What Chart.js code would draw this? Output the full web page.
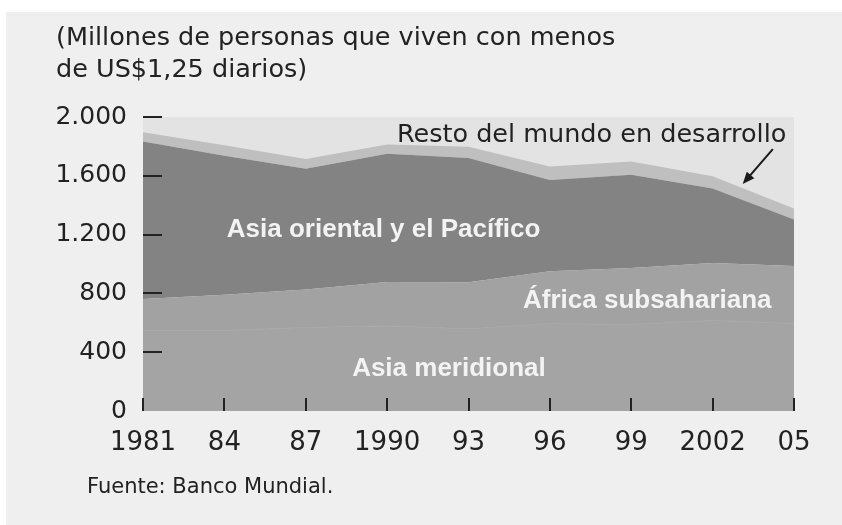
<!DOCTYPE html>
<html>
<head>
<meta charset="utf-8">
<script src="https://cdn.jsdelivr.net/npm/chart.js@4.4.1/dist/chart.umd.min.js"></script>
<style>
  html, body { margin: 0; padding: 0; background: #fff; }
  #wrap { position: relative; width: 842px; height: 525px; overflow: hidden; }
  #panel { position: absolute; left: 6px; top: 12px; width: 836px; height: 513px; background: #efefef; }
  #chart { position: absolute; left: 0; top: 0; }
  #title { position: absolute; left: 56px; top: 20px; font: 25.5px/32px 'DejaVu Sans', sans-serif; color: #222; white-space: nowrap; }
  #source { position: absolute; left: 87px; top: 474px; font: 21px/24px 'DejaVu Sans', sans-serif; color: #222; white-space: nowrap; }
</style>
</head>
<body>
<div id="wrap">
  <div id="panel"></div>
  <canvas id="chart" width="842" height="525"></canvas>
  <div id="title">(Millones de personas que viven con menos<br>de US$1,25 diarios)</div>
  <div id="source">Fuente: Banco Mundial.</div>
</div>
<script>
// Years on the x axis and how they are printed
const years = ['1981', '84', '87', '1990', '93', '96', '99', '2002', '05'];

// Millions of people under US$1.25 a day, stacked bottom to top
const asiaMeridional = [548, 548, 568, 579, 559, 594, 589, 616, 596];
const africaSubsahariana = [214, 242, 258, 298, 317, 356, 383, 390, 391];
const asiaOriental = [1072, 947, 822, 873, 845, 622, 635, 507, 316];
const restoMundo = [63, 71, 67, 63, 77, 91, 91, 84, 74];

// Y axis ticks
const yTicks = [0, 400, 800, 1200, 1600, 2000];
const yTickLabels = ['0', '400', '800', '1.200', '1.600', '2.000'];

// Light fill behind the plot, from 0 up to the top tick
const plotBackground = {
  id: 'plotBackground',
  beforeDraw(chart) {
    const { ctx, chartArea: a } = chart;
    ctx.save();
    ctx.fillStyle = '#e3e3e3';
    ctx.fillRect(a.left, a.top, a.right - a.left, a.bottom - a.top);
    ctx.restore();
  }
};

// Series names written inside the areas, plus the arrow to the thin top band
const areaLabels = {
  id: 'areaLabels',
  afterDatasetsDraw(chart) {
    const { ctx } = chart;
    const xs = chart.scales.x, ys = chart.scales.y;
    const put = (text, idx, val, font, color) => {
      ctx.font = font;
      ctx.fillStyle = color;
      ctx.textAlign = 'left';
      ctx.textBaseline = 'alphabetic';
      ctx.fillText(text, xs.getPixelForValue(idx), ys.getPixelForValue(val));
    };
    ctx.save();
    const bold = "bold 26px 'Liberation Sans', Arial, sans-serif";
    put('Asia oriental y el Pacífico', 1.03, 1184, bold, '#f3f3f3');
    put('África subsahariana', 4.67, 701, bold, '#f3f3f3');
    put('Asia meridional', 2.57, 238, bold, '#f3f3f3');
    put('Resto del mundo en desarrollo', 3.12, 1830, "25.5px 'DejaVu Sans', sans-serif", '#222');

    // arrow
    const x1 = xs.getPixelForValue(7.74), y1 = ys.getPixelForValue(1782);
    const x2 = xs.getPixelForValue(7.37), y2 = ys.getPixelForValue(1544);
    const ang = Math.atan2(y2 - y1, x2 - x1);
    ctx.strokeStyle = '#1a1a1a';
    ctx.fillStyle = '#1a1a1a';
    ctx.lineWidth = 2;
    ctx.beginPath();
    ctx.moveTo(x1, y1);
    ctx.lineTo(x2 - 8 * Math.cos(ang), y2 - 8 * Math.sin(ang));
    ctx.stroke();
    ctx.beginPath();
    ctx.moveTo(x2, y2);
    ctx.lineTo(x2 - 12 * Math.cos(ang) + 5 * Math.sin(ang), y2 - 12 * Math.sin(ang) - 5 * Math.cos(ang));
    ctx.lineTo(x2 - 12 * Math.cos(ang) - 5 * Math.sin(ang), y2 - 12 * Math.sin(ang) + 5 * Math.cos(ang));
    ctx.closePath();
    ctx.fill();
    ctx.restore();
  }
};

new Chart(document.getElementById('chart'), {
  type: 'line',
  data: {
    labels: years,
    datasets: [
      { label: 'Asia meridional', data: asiaMeridional, backgroundColor: '#a4a4a4', borderColor: '#a8a8a8', borderWidth: 1, fill: 'origin' },
      { label: 'África subsahariana', data: africaSubsahariana, backgroundColor: '#a2a2a2', borderWidth: 0, fill: '-1' },
      { label: 'Asia oriental y el Pacífico', data: asiaOriental, backgroundColor: '#838383', borderWidth: 0, fill: '-1' },
      { label: 'Resto del mundo en desarrollo', data: restoMundo, backgroundColor: '#bfbfbf', borderWidth: 0, fill: '-1' }
    ]
  },
  options: {
    responsive: false,
    animation: false,
    elements: { point: { radius: 0 }, line: { tension: 0 } },
    layout: { padding: { top: 117, right: 48, bottom: 54, left: 0 } },
    plugins: {
      legend: { display: false },
      tooltip: { enabled: false }
    },
    scales: {
      x: {
        border: { display: false },
        grid: { z: 1, drawOnChartArea: false, tickLength: -13, color: '#222', lineWidth: 2 },
        ticks: {
          color: '#222',
          font: { family: "'DejaVu Sans', sans-serif", size: 26 },
          padding: 30,
          maxRotation: 0,
          autoSkip: false
        },
        afterFit: s => { s.height = 60; }
      },
      y: {
        stacked: true,
        min: 0,
        max: 2000,
        border: { display: false },
        grid: {
          z: 1,
          drawOnChartArea: false,
          tickLength: -19,
          color: c => (c.tick && c.tick.value === 0 ? 'rgba(0,0,0,0)' : '#222'),
          lineWidth: 2
        },
        ticks: {
          stepSize: 400,
          color: '#222',
          font: { family: "'DejaVu Sans', sans-serif", size: 25 },
          padding: 35,
          callback: v => yTickLabels[yTicks.indexOf(v)]
        },
        afterFit: s => { s.width = 143; }
      }
    }
  },
  plugins: [plotBackground, areaLabels]
});
</script>
</body>
</html>
